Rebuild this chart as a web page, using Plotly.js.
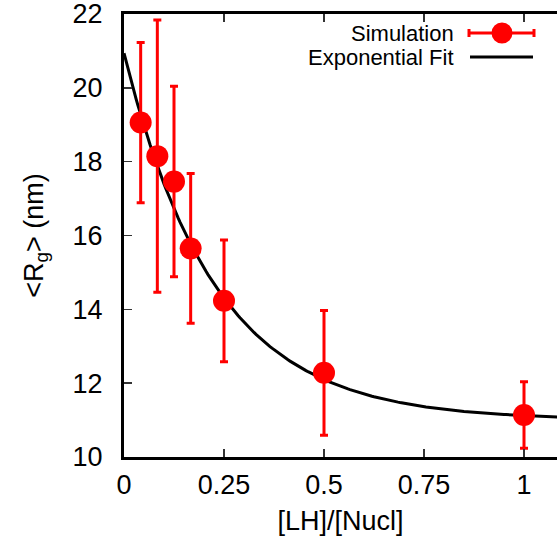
<!DOCTYPE html>
<html>
<head>
<meta charset="utf-8">
<script src="https://cdn.plot.ly/plotly-3.0.1.min.js"></script>
<style>html,body{margin:0;padding:0;background:#fff;}#chart{width:557px;height:546px;}</style>
</head>
<body>
<div id="chart"></div>
<script>
// Data
const ratio = [1/24, 1/12, 1/8, 1/6, 1/4, 1/2, 1];
const rg = [19.06, 18.15, 17.46, 15.65, 14.23, 12.28, 11.14];
const rgErr = [2.17, 3.69, 2.58, 2.03, 1.65, 1.69, 0.90];
// Exponential fit parameters: Rg = fitA + fitB * exp(-x / fitC)
const fitA = 11.0, fitB = 9.94, fitC = 0.227;
const xTicks = [0, 0.25, 0.5, 0.75, 1];
const xTickText = ['0', '0.25', '0.5', '0.75', '1'];
const yTicks = [10, 12, 14, 16, 18, 20, 22];
const yTickText = ['10', '12', '14', '16', '18', '20', '22'];

const fitX = [], fitY = [];
for (let i = 0; i <= 220; i++) {
  const x = i * 1.1 / 220;
  fitX.push(x);
  fitY.push(fitA + fitB * Math.exp(-x / fitC));
}

const FONT = 'Liberation Sans, Arial, sans-serif';
const L = 124, T = 14, W = 557, H = 546, B = 89;
const pw = W - L, ph = H - T - B;
const px = p => (p - L) / pw;
const py = p => (H - B - p) / ph;

const traces = [
  {x: fitX, y: fitY, mode: 'lines', line: {color: '#000', width: 3}, hoverinfo: 'skip', showlegend: false},
  {x: ratio, y: rg, mode: 'markers', marker: {color: '#ff0000', size: 22},
   error_y: {type: 'data', array: rgErr, visible: true, color: '#ff0000', thickness: 3, width: 4},
   showlegend: false, cliponaxis: false}
];

const layout = {
  width: W, height: H,
  margin: {l: L, r: 0, t: T, b: B},
  paper_bgcolor: '#fff', plot_bgcolor: '#fff',
  font: {family: FONT, size: 27, color: '#000'},
  showlegend: false,
  xaxis: {
    range: [0, pw / 400], tickmode: 'array', tickvals: xTicks, ticktext: xTickText,
    ticks: 'inside', ticklen: 8, tickwidth: 1.5, tickcolor: '#333',
    showline: true, linewidth: 3, linecolor: '#000', mirror: 'ticks',
    showgrid: false, zeroline: false, ticklabelstandoff: 2,
    tickfont: {family: FONT, size: 27},
    title: {text: '[LH]/[Nucl]', font: {family: FONT, size: 27}, standoff: 12}
  },
  yaxis: {
    range: [10, 22.0001], tickmode: 'array', tickvals: yTicks, ticktext: yTickText,
    ticks: 'inside', ticklen: 8, tickwidth: 1.5, tickcolor: '#333',
    showline: true, linewidth: 3, linecolor: '#000',
    showgrid: false, zeroline: false, ticklabelstandoff: 13,
    ticklabeloverflow: 'allow',
    tickfont: {family: FONT, size: 27},
    title: {text: '&lt;R<sub>g</sub>&gt; (nm)', font: {family: FONT, size: 27}, standoff: 22}
  },
  annotations: [
    {xref: 'paper', yref: 'paper', x: px(456), y: py(33), xanchor: 'right', yanchor: 'middle',
     text: 'Simulation', showarrow: false, font: {family: FONT, size: 22, color: '#000'}},
    {xref: 'paper', yref: 'paper', x: px(456), y: py(57), xanchor: 'right', yanchor: 'middle',
     text: 'Exponential Fit', showarrow: false, font: {family: FONT, size: 22, color: '#000'}}
  ],
  shapes: [
    {type: 'line', xref: 'paper', yref: 'paper', x0: px(468), x1: px(535), y0: py(33), y1: py(33), line: {color: '#ff0000', width: 3}},
    {type: 'line', xref: 'paper', yref: 'paper', x0: px(469), x1: px(469), y0: py(29), y1: py(37), line: {color: '#ff0000', width: 3}},
    {type: 'line', xref: 'paper', yref: 'paper', x0: px(534), x1: px(534), y0: py(29), y1: py(37), line: {color: '#ff0000', width: 3}},
    {type: 'circle', xref: 'paper', yref: 'paper', x0: px(491.5), x1: px(512.5), y0: py(43.5), y1: py(22.5), fillcolor: '#ff0000', line: {width: 0}},
    {type: 'line', xref: 'paper', yref: 'paper', x0: px(470), x1: px(533), y0: py(57), y1: py(57), line: {color: '#000', width: 3}}
  ]
};

Plotly.newPlot('chart', traces, layout, {displayModeBar: false, staticPlot: true});
</script>
</body>
</html>
